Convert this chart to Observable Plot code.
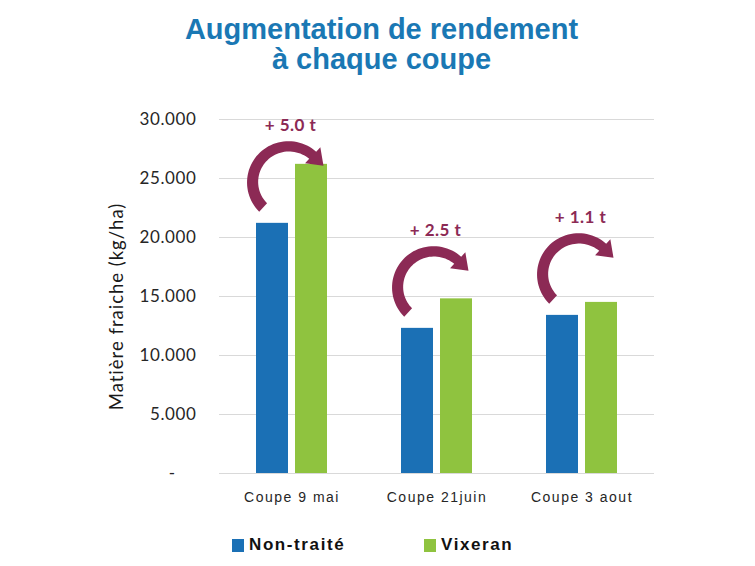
<!DOCTYPE html>
<html><head><meta charset="utf-8">
<script src="https://cdn.jsdelivr.net/npm/d3@7"></script>
<script src="https://cdn.jsdelivr.net/npm/@observablehq/plot@0.6"></script>
<style>
body{margin:0;background:#fff;width:755px;height:566px;position:relative;overflow:hidden}
#title{position:absolute;left:4px;top:14px;width:755px;text-align:center;font:bold 29px "Liberation Sans",Arial,sans-serif;color:#1a78b4;line-height:30px}
#chart{position:absolute;left:0;top:90px}
.sw{position:absolute;width:12px;height:13px}
.lt{position:absolute;font:bold 17px "Liberation Sans",Arial,sans-serif;letter-spacing:1.6px;color:#111;line-height:20px}
g[aria-label="fx-axis tick label"] text{letter-spacing:1.5px}
g[aria-label="y-axis tick label"] text{letter-spacing:0.6px}
</style></head>
<body>
<div id="title">Augmentation de rendement<br>à chaque coupe</div>
<div id="chart"></div>
<div id="legend"></div>
<script>
const categories = ["Coupe 9 mai", "Coupe 21juin", "Coupe 3 aout"];
const series = ["Non-traité", "Vixeran"];
const nonTraite = [21200, 12300, 13400];
const vixeran = [26200, 14800, 14500];
const yTicks = [0, 5000, 10000, 15000, 20000, 25000, 30000];
const yLabel = "Matière fraiche (kg/ha)";
const colors = ["#1b70b5", "#8fc33f"];
const maroon = "#8c2a55";

const rows = categories.flatMap((c, i) => [
  {cat: c, series: series[0], value: nonTraite[i]},
  {cat: c, series: series[1], value: vixeran[i]}
]);
const gains = categories.map((c, i) => ({cat: c, series: series[0], value: nonTraite[i], diff: vixeran[i] - nonTraite[i]}));

const fmt = d => d === 0 ? "-\u2007\u2007" : d3.format(",")(d).replace(/,/g, ".");

function arrowPath(L, T) {
  const cx = L + 40, cy = T + 40;
  const a0 = 133 * Math.PI / 180, a1 = 314 * Math.PI / 180;
  const n = 48, outer = [], inner = [];
  for (let k = 0; k <= n; k++) {
    const t = k / n, a = a0 + (a1 - a0) * t;
    const r = 35 - 1 * Math.sin(Math.PI * t) + 2 * t * t;
    const w = (11.5 - 1.5 * t) / 2;
    const c = Math.cos(a), s = Math.sin(a);
    outer.push([cx + (r + w) * c, cy + (r + w) * s]);
    inner.push([cx + (r - w) * c, cy + (r - w) * s]);
  }
  const c1 = Math.cos(a1), s1 = Math.sin(a1), r1 = 37;
  const px = cx + r1 * c1, py = cy + r1 * s1;
  const hw = 11, hl = 15, tx = -s1, ty = c1;
  const pts = [...outer, [px + hw * c1, py + hw * s1], [px + hl * tx, py + hl * ty], [px - hw * c1, py - hw * s1], ...inner.reverse()];
  return "M" + pts.map(p => p[0].toFixed(2) + "," + p[1].toFixed(2)).join("L") + "Z";
}

function drawArrows(index, scales) {
  const g = d3.create("svg:g");
  const sx = scales.x, sy = scales.y;
  const bw = typeof sx.bandwidth === "function" ? sx.bandwidth() : (sx.bandwidth || 0);
  for (const i of index) {
    const d = gains[i];
    const cx = sx(d.series) + bw / 2;
    const cy = sy(d.value);
    g.append("path").attr("d", arrowPath(cx - 25, cy - 81)).attr("fill", maroon);
  }
  return g.node();
}

const plot = Plot.plot({
  width: 755,
  height: 430,
  marginLeft: 218,
  marginRight: 100,
  marginTop: 29,
  marginBottom: 47,
  style: {background: "transparent", color: "#262626"},
  fx: {domain: categories, padding: 0, label: null},
  x: {domain: series, paddingInner: 0.175, paddingOuter: 0.908, axis: null},
  y: {domain: [0, 30000]},
  color: {domain: series, range: colors},
  marks: [
    Plot.ruleY(yTicks, {stroke: "#d9d9d9", strokeWidth: 1}),
    Plot.axisY({ticks: yTicks, tickSize: 0, tickPadding: 23, tickFormat: fmt, label: null, fontSize: 17, fontFamily: "Lato"}),
    Plot.axisFx({anchor: "bottom", tickSize: 0, tickPadding: 19, label: null, fontSize: 14, fontFamily: "Liberation Sans"}),
    Plot.barY(rows, {fx: "cat", x: "series", y: "value", fill: "series"}),
    Plot.dot(gains, {fx: "cat", x: "series", y: "value", r: 0, render: drawArrows}),
    Plot.text(gains, {fx: "cat", x: "series", y: "value", text: d => `+ ${(d.diff / 1000).toFixed(1)} t`, dx: 18, dy: -98, fill: maroon, fontWeight: "bold", fontSize: 17, fontFamily: "Lato"}),
    Plot.text([yLabel], {fx: () => categories[0], text: d => d, frameAnchor: "left", textAnchor: "middle", rotate: -90, dx: -102, dy: 10, fontSize: 18.5, fontFamily: "Lato", fill: "#1a1a1a"})
  ]
});
d3.select(plot).selectAll("text").filter(function() { return this.textContent === yLabel; }).style("letter-spacing", "1px");
d3.select(plot).selectAll("text").filter(function() { return /^\+ /.test(this.textContent); }).style("letter-spacing", "0.5px");
document.getElementById("chart").appendChild(plot);

const legend = document.getElementById("legend");
const legendPos = [232, 424];
series.forEach((s, i) => {
  const sw = document.createElement("div");
  sw.className = "sw";
  sw.style.left = legendPos[i] + "px";
  sw.style.top = "539px";
  sw.style.background = colors[i];
  legend.appendChild(sw);
  const t = document.createElement("div");
  t.className = "lt";
  t.style.left = (legendPos[i] + 17) + "px";
  t.style.top = "535px";
  t.textContent = s;
  legend.appendChild(t);
});
</script>
</body></html>
